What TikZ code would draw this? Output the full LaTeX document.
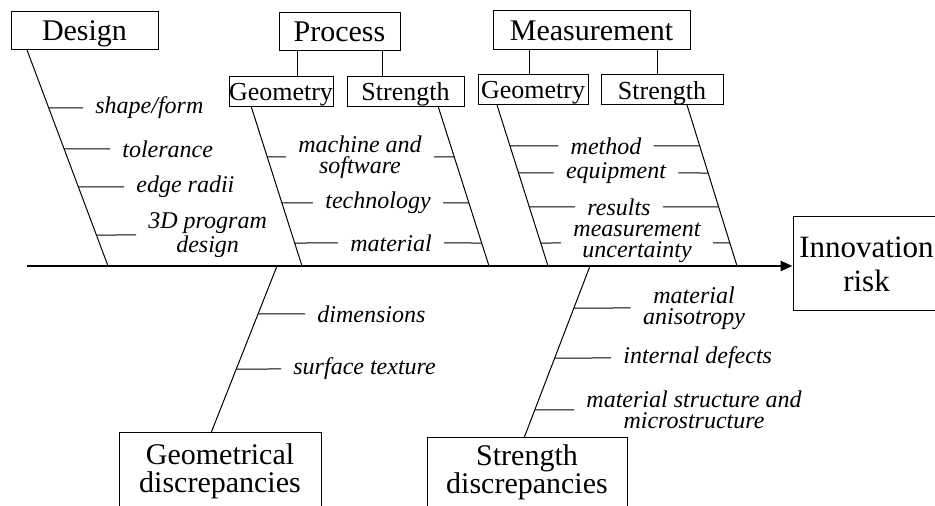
\documentclass[tikz,border=0pt]{standalone}
\usepackage{fontspec}
\setmainfont{Liberation Serif}
\usetikzlibrary{arrows.meta, positioning, calc}

\begin{document}
\begin{tikzpicture}[x=0.5pt, y=-0.5pt,
    every node/.style={align=center},
    cat/.style={draw, line width=0.5pt, inner sep=0pt,
                font=\fontsize{15}{14}\selectfont},
    sub/.style={draw, line width=0.5pt, inner sep=0pt, minimum height=15pt,
                text depth=0pt, font=\fontsize{13}{14}\selectfont},
    cause/.style={inner xsep=6pt, inner ysep=1pt,
                  font=\fontsize{12}{10.5}\selectfont\itshape},
    bone/.style={line width=0.5pt},
    rib/.style={line width=0.5pt},
    trunk/.style={-{Triangle[length=6pt,width=5pt]}, line width=1.2pt}
]
\useasboundingbox (0,0) rectangle (935,506);

% main categories
\node[cat, minimum width=73.5pt, minimum height=19pt, text depth=0pt] (design) at (84.5,31) {Design};
\node[cat, minimum width=60.5pt, minimum height=19pt, text depth=0pt] (process) at (339.5,32) {Process};
\node[cat, minimum width=98.5pt, minimum height=19.5pt, text depth=0pt] (measure) at (591.5,30.5) {Measurement};
\node[sub, minimum width=52pt] (pgeo) at (281,91.5) {Geometry};
\node[sub, minimum width=58.5pt] (pstr) at (405.5,91.5) {Strength};
\node[sub, minimum width=55pt] (mgeo) at (533,90) {Geometry};
\node[sub, minimum width=61pt] (mstr) at (662,90) {Strength};
\node[cat, minimum width=73.5pt, minimum height=47pt,
      font=\fontsize{15.5}{17}\selectfont] (innov) at (866.5,264) {Innovation\\risk};
\node[cat, minimum width=101pt, minimum height=38pt] (geodisc) at (220,471) {Geometrical\\discrepancies};
\node[cat, minimum width=100pt, minimum height=34pt] (strdisc) at (527,472) {Strength\\discrepancies};

% causes
\node[cause, anchor=west] (shp) at (83,108) {shape/form};
\node[cause, anchor=west] (tol) at (110,149) {tolerance};
\node[cause, anchor=west] (edg) at (124,187) {edge radii};
\node[cause, anchor=west] (prg) at (136,235) {3D program\\design};
\node[cause] (mach) at (360,157) {machine and\\software};
\node[cause] (tech) at (378,203) {technology};
\node[cause] (matl) at (391,243) {material};
\node[cause] (meth) at (606,146) {method};
\node[cause] (equip) at (616,173) {equipment};
\node[cause] (res) at (619,207) {results};
\node[cause] (unc) at (637,243) {measurement\\uncertainty};
\node[cause, anchor=west] (dim) at (305,314) {dimensions};
\node[cause, anchor=west] (surf) at (281,369) {surface texture};
\node[cause] (aniso) at (694,308) {material\\anisotropy};
\node[cause, anchor=west] (intd) at (611,358) {internal defects};
\node[cause] (mstruct) at (694,410) {material structure and\\microstructure};

% bones
\coordinate (mS) at (27,266);
\coordinate (dT) at (27,50);    \coordinate (dB) at (108,266);
\coordinate (pgT) at (251,106); \coordinate (pgB) at (302,266);
\coordinate (psT) at (438,106); \coordinate (psB) at (489,266);
\coordinate (mgT) at (497,105); \coordinate (mgB) at (548,266);
\coordinate (msT) at (687,105); \coordinate (msB) at (737,266);
\coordinate (gdT) at (277,266); \coordinate (gdB) at (211,433);
\coordinate (sdT) at (590,266); \coordinate (sdB) at (524,438);
\coordinate (pc1) at (297,0);   \coordinate (pc2) at (382,0);
\coordinate (mc1) at (529,0);   \coordinate (mc2) at (657,0);

\draw[trunk] (mS) -- (mS -| innov.west);
\draw[bone] (process.south -| pc1) -- (pgeo.north -| pc1);
\draw[bone] (process.south -| pc2) -- (pstr.north -| pc2);
\draw[bone] (measure.south -| mc1) -- (mgeo.north -| mc1);
\draw[bone] (measure.south -| mc2) -- (mstr.north -| mc2);
\foreach \a/\b in {dT/dB, pgT/pgB, psT/psB, mgT/mgB, msT/msB, gdT/gdB, sdT/sdB}
  \draw[bone] (\a) -- (\b);

% ribs
\foreach \c in {shp,tol,edg,prg}
  \draw[rib] (intersection of dT--dB and \c.west--\c.east) -- (\c.west);
\foreach \c in {mach,tech,matl} {
  \draw[rib] (intersection of pgT--pgB and \c.west--\c.east) -- (\c.west);
  \draw[rib] (\c.east) -- (intersection of psT--psB and \c.west--\c.east);
}
\foreach \c in {meth,equip,res,unc} {
  \draw[rib] (intersection of mgT--mgB and \c.west--\c.east) -- (\c.west);
  \draw[rib] (\c.east) -- (intersection of msT--msB and \c.west--\c.east);
}
\foreach \c in {dim,surf}
  \draw[rib] (intersection of gdT--gdB and \c.west--\c.east) -- (\c.west);
\foreach \c in {aniso,intd,mstruct}
  \draw[rib] (intersection of sdT--sdB and \c.west--\c.east) -- (\c.west);
\end{tikzpicture}
\end{document}
